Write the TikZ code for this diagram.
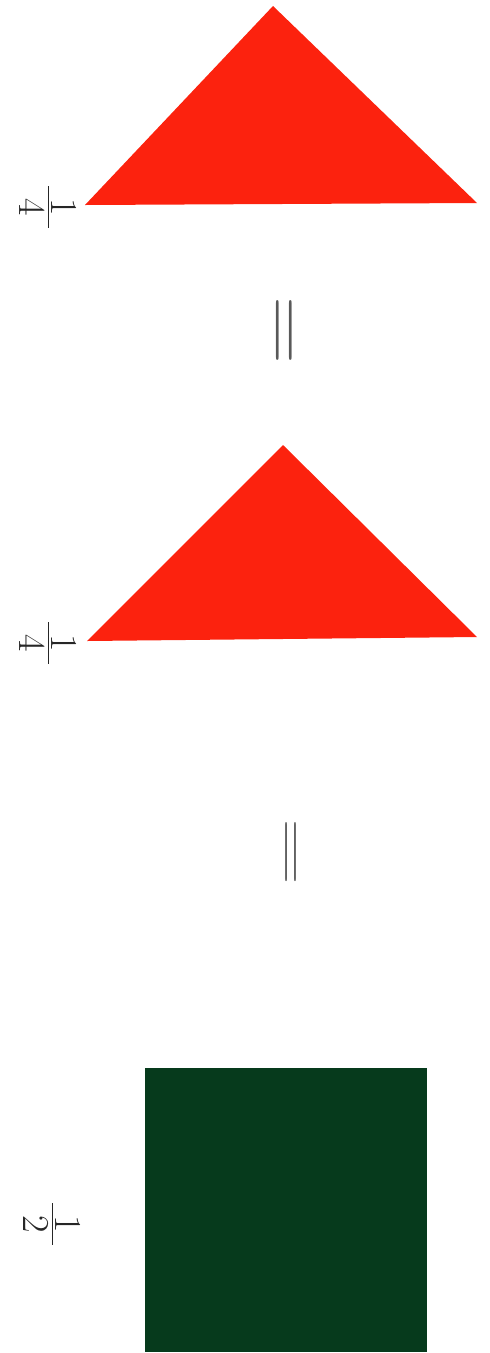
\documentclass[tikz,border=0pt]{standalone}
\usepackage{amsmath}
\definecolor{rougeTri}{RGB}{252,34,14}
\definecolor{vertCarre}{RGB}{6,58,28}
\begin{document}
\begin{tikzpicture}[x=1pt,y=-1pt]
		% Styles (MODIFIABLES)
		\tikzstyle{triangle}=[fill=rougeTri]
		\tikzstyle{carre}=[fill=vertCarre]
		\tikzstyle{fraction}=[inner sep=0pt,rotate=-90,text=black!85]
		\tikzstyle{egal}=[inner sep=0pt,rotate=-90,text=black!65]
		% Dimensions (MODIFIABLES)
		\def\TailleFraction{\fontsize{38}{44}\selectfont}
		\def\LargeurBarre{42pt}
		\def\Fraction#1#2{\TailleFraction$\tfrac{\makebox[\LargeurBarre]{#1}}{\raisebox{-14pt}{#2}}$}
		% Cadre
		\useasboundingbox (0,0) rectangle (490,1353);
		% Premier triangle
		\coordinate (T1s) at (273,6);
		\coordinate (T1g) at (85,205);
		\coordinate (T1d) at (477,203);
		\fill[triangle] (T1s)--(T1d)--(T1g)--cycle;
		\node[fraction] (F1) at (48,207) {\Fraction{1}{4}};
		% Premier signe egal
		\node[egal] (E1) at (280,330) {\scalebox{9}[6.7]{$=$}};
		% Second triangle
		\coordinate (T2s) at (283,445);
		\coordinate (T2g) at (87,641);
		\coordinate (T2d) at (477,637);
		\fill[triangle] (T2s)--(T2d)--(T2g)--cycle;
		\node[fraction] (F2) at (48,643) {\Fraction{1}{4}};
		% Second signe egal
		\node[egal] (E2) at (288,852) {\scalebox{8.9}[4.6]{$=$}};
		% Carre
		\coordinate (C1) at (145,1068);
		\coordinate (C2) at (427,1352);
		\fill[carre] (C1) rectangle (C2);
		\node[fraction] (F3) at (52,1224) {\Fraction{1}{2}};
	\end{tikzpicture}
\end{document}
